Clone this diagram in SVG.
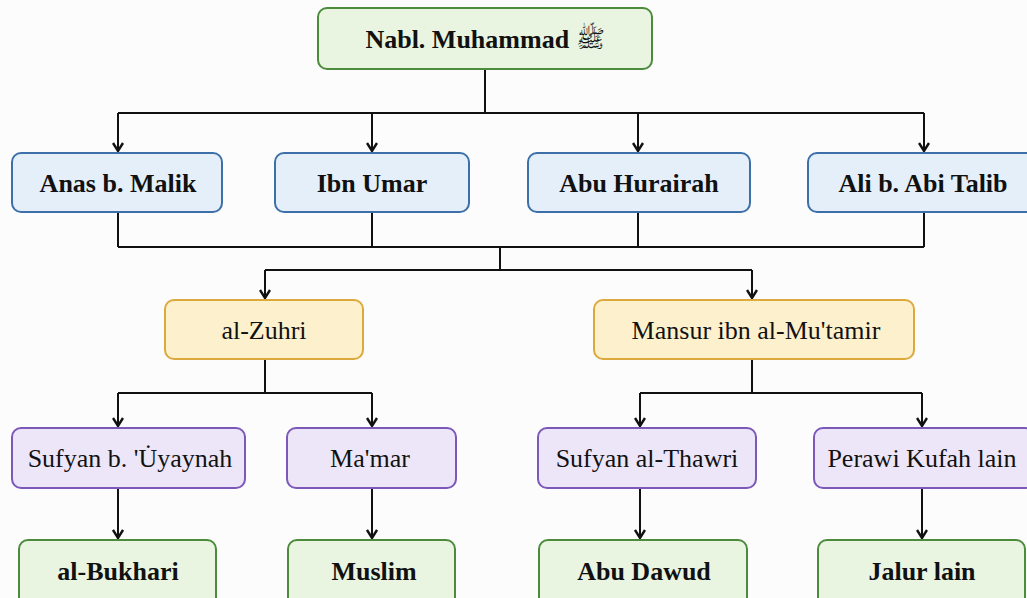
<svg xmlns="http://www.w3.org/2000/svg" width="1027" height="598" viewBox="0 0 1027 598">
<defs>
<marker id="ah" markerWidth="12" markerHeight="12" refX="9" refY="6" orient="auto" markerUnits="userSpaceOnUse" viewBox="0 0 12 12">
<path d="M1,1 L9,6 L1,11" fill="none" stroke="#111" stroke-width="2.4"/>
</marker>
<style>
.n rect{stroke-width:2}
.g rect{fill:#e9f5e1;stroke:#4b8b3b}
.b rect{fill:#e5effa;stroke:#3d6fa8}
.y rect{fill:#fdf0cd;stroke:#dcaa3c}
.p rect{fill:#ede5f8;stroke:#7c58b8}
text{font-family:"Liberation Serif","Times New Roman",serif;font-size:26px;fill:#111;text-anchor:middle;dominant-baseline:central}
.bold text{font-weight:bold}
.c path{fill:none;stroke:#111;stroke-width:2}
.c .a{marker-end:url(#ah)}
</style>
</defs>
<rect width="1027" height="598" fill="#fcfcfc"/>
<g class="c">
<path d="M485,69 V113 M118,113 H924"/>
<path class="a" d="M118,113 V151"/>
<path class="a" d="M372,113 V151"/>
<path class="a" d="M638,113 V151"/>
<path class="a" d="M924,113 V151"/>
<path d="M118,212 V247 M372,212 V247 M638,212 V247 M924,212 V247 M118,247 H924 M500,247 V270 M265,270 H752"/>
<path class="a" d="M265,270 V298"/>
<path class="a" d="M752,270 V298"/>
<path d="M265,359 V393 M118,393 H372 M752,359 V393 M640,393 H922"/>
<path class="a" d="M118,393 V426"/>
<path class="a" d="M372,393 V426"/>
<path class="a" d="M640,393 V426"/>
<path class="a" d="M922,393 V426"/>
<path class="a" d="M118,488 V538"/>
<path class="a" d="M372,488 V538"/>
<path class="a" d="M640,488 V538"/>
<path class="a" d="M922,488 V538"/>
</g>
<g id="n-nabi" class="n g bold"><rect x="318" y="8" width="334" height="61" rx="9"/><text x="485" y="39" font-size="28">Nabl. Muhammad <tspan font-family="'DejaVu Sans','Noto Sans',sans-serif" font-weight="normal" font-size="24">ﷺ</tspan></text></g>
<g id="n-anas" class="n b bold"><rect x="12" y="153" width="210" height="59" rx="9"/><text x="118" y="183">Anas b. Malik</text></g>
<g id="n-ibnumar" class="n b bold"><rect x="275" y="153" width="194" height="59" rx="9"/><text x="372" y="183">Ibn Umar</text></g>
<g id="n-abuhurairah" class="n b bold"><rect x="528" y="153" width="222" height="59" rx="9"/><text x="639" y="183">Abu Hurairah</text></g>
<g id="n-ali" class="n b bold"><rect x="808" y="153" width="230" height="59" rx="9"/><text x="923" y="183">Ali b. Abi Talib</text></g>
<g id="n-zuhri" class="n y"><rect x="165" y="300" width="198" height="59" rx="9"/><text x="264" y="330">al-Zuhri</text></g>
<g id="n-mansur" class="n y"><rect x="594" y="300" width="320" height="59" rx="9"/><text x="756" y="330">Mansur ibn al-Mu'tamir</text></g>
<g id="n-sufyanu" class="n p"><rect x="12" y="428" width="233" height="60" rx="9"/><text x="130" y="458">Sufyan b. 'U̇yaynah</text></g>
<g id="n-mamar" class="n p"><rect x="287" y="428" width="169" height="60" rx="9"/><text x="370" y="458">Ma'mar</text></g>
<g id="n-sufyant" class="n p"><rect x="538" y="428" width="218" height="60" rx="9"/><text x="647" y="458">Sufyan al-Thawri</text></g>
<g id="n-perawi" class="n p"><rect x="814" y="428" width="220" height="60" rx="9"/><text x="922" y="458">Perawi Kufah lain</text></g>
<g id="n-bukhari" class="n g bold"><rect x="19" y="540" width="197" height="66" rx="9"/><text x="118" y="571">al-Bukhari</text></g>
<g id="n-muslim" class="n g bold"><rect x="288" y="540" width="167" height="66" rx="9"/><text x="374" y="571">Muslim</text></g>
<g id="n-abudawud" class="n g bold"><rect x="539" y="540" width="208" height="66" rx="9"/><text x="644" y="571">Abu Dawud</text></g>
<g id="n-jalur" class="n g bold"><rect x="818" y="540" width="207" height="66" rx="9"/><text x="922" y="571">Jalur lain</text></g>
</svg>
